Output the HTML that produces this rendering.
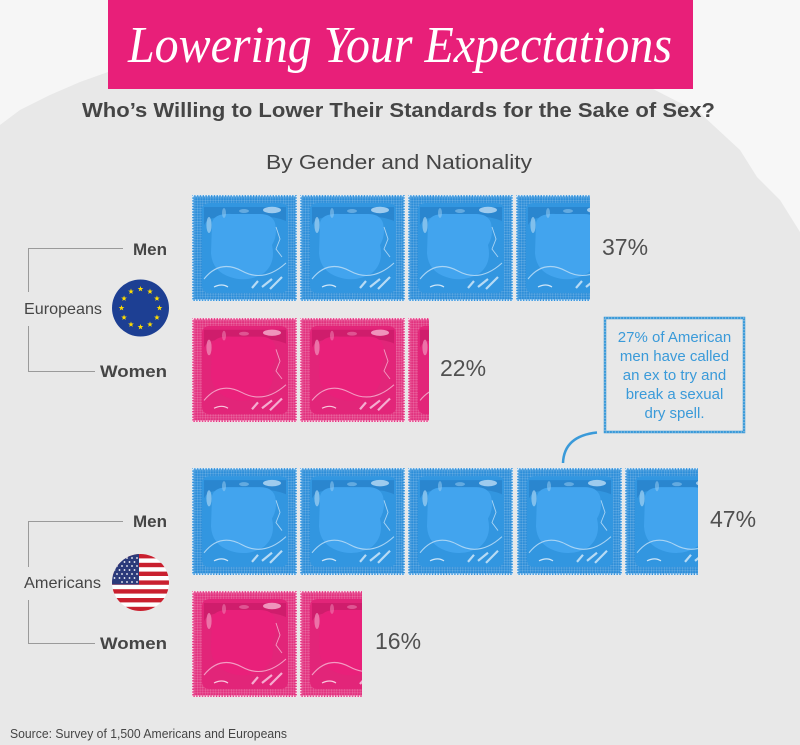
<!DOCTYPE html>
<html><head><meta charset="utf-8"><style>
html,body{margin:0;padding:0;background:#e8e8e8;}
svg{display:block;}
</style></head><body>
<svg width="800" height="745" viewBox="0 0 800 745" xmlns="http://www.w3.org/2000/svg" xmlns:xlink="http://www.w3.org/1999/xlink">
<defs>
  <pattern id="grid" width="2.6" height="2.6" patternUnits="userSpaceOnUse">
    <rect width="2.6" height="2.6" fill="none"/>
    <rect x="0" y="0" width="2.6" height="0.6" fill="#ffffff" opacity="0.22"/>
    <rect x="0" y="0" width="0.6" height="2.6" fill="#ffffff" opacity="0.22"/>
  </pattern>
  <symbol id="tb" viewBox="0 0 105 106" preserveAspectRatio="none">
    <rect width="105" height="106" fill="#2d8ed9"/>
    <rect width="105" height="106" fill="url(#grid)"/>
    <rect x="0.75" y="0.75" width="103.5" height="104.5" fill="none" stroke="#dcecf9" stroke-width="1.5" stroke-dasharray="1.4 1.4"/>
    <path d="M10 16 Q10 8 18 8 L88 8 Q96 8 96 16 L96 90 Q96 98 88 98 L18 98 Q10 98 10 90Z" fill="#3296e0"/>
    <path d="M12 12 L94 12 L94 26 Q80 20 60 22 L30 22 Q16 22 12 30Z" fill="#2a86cf"/>
    <path d="M20 28 Q22 18 40 19 L68 19 Q80 19 83 28 Q86 40 80 50 Q84 68 72 78 Q56 88 38 82 Q20 76 19 58Z" fill="#42a4ee"/>
    <ellipse cx="17" cy="30" rx="2.6" ry="8" fill="#9ccdf1" opacity="0.75"/>
    <ellipse cx="32" cy="18" rx="2" ry="5" fill="#9ccdf1" opacity="0.5"/>
    <ellipse cx="80" cy="15" rx="9" ry="3.2" fill="#bcdcf5" opacity="0.8"/>
    <ellipse cx="52" cy="16" rx="5" ry="2" fill="#9ccdf1" opacity="0.5"/>
    <path d="M12 84 Q28 64 50 76 Q72 88 94 68" fill="none" stroke="#a9d4f4" stroke-width="1.1"/>
    <path d="M84 32 L88 44 L84 54 L90 62" fill="none" stroke="#a9d4f4" stroke-width="0.9"/>
    <path d="M70 92 L80 84 M78 94 L90 82 M60 93 L66 86" stroke="#b7dbf5" stroke-width="2.2"/>
    <path d="M22 92 Q30 88 36 92" fill="none" stroke="#cfe6f8" stroke-width="1.2"/>
  </symbol>
  <symbol id="tp" viewBox="0 0 105 106" preserveAspectRatio="none">
    <rect width="105" height="106" fill="#e2327f"/>
    <rect width="105" height="106" fill="url(#grid)"/>
    <rect x="0.75" y="0.75" width="103.5" height="104.5" fill="none" stroke="#fbe0ec" stroke-width="1.5" stroke-dasharray="1.4 1.4"/>
    <path d="M10 16 Q10 8 18 8 L88 8 Q96 8 96 16 L96 90 Q96 98 88 98 L18 98 Q10 98 10 90Z" fill="#e22579"/>
    <path d="M12 12 L94 12 L94 26 Q80 20 60 22 L30 22 Q16 22 12 30Z" fill="#cf1d6c"/>
    <path d="M20 28 Q22 18 40 19 L68 19 Q80 19 83 28 Q86 40 80 50 Q84 68 72 78 Q56 88 38 82 Q20 76 19 58Z" fill="#e9207a"/>
    <ellipse cx="17" cy="30" rx="2.6" ry="8" fill="#f08cb8" opacity="0.75"/>
    <ellipse cx="32" cy="18" rx="2" ry="5" fill="#f08cb8" opacity="0.5"/>
    <ellipse cx="80" cy="15" rx="9" ry="3.2" fill="#f6b3d1" opacity="0.8"/>
    <ellipse cx="52" cy="16" rx="5" ry="2" fill="#f08cb8" opacity="0.5"/>
    <path d="M12 84 Q28 64 50 76 Q72 88 94 68" fill="none" stroke="#f39cc3" stroke-width="1.1"/>
    <path d="M84 32 L88 44 L84 54 L90 62" fill="none" stroke="#f39cc3" stroke-width="0.9"/>
    <path d="M70 92 L80 84 M78 94 L90 82 M60 93 L66 86" stroke="#f5acd0" stroke-width="2.2"/>
    <path d="M22 92 Q30 88 36 92" fill="none" stroke="#f8c9de" stroke-width="1.2"/>
  </symbol>
  <path id="star" d="M0,-3 L0.705,-0.971 L2.853,-0.927 L1.141,0.371 L1.763,2.427 L0,1.2 L-1.763,2.427 L-1.141,0.371 L-2.853,-0.927 L-0.705,-0.971 Z" fill="#ffdd00"/>
  <clipPath id="c1"><rect x="0" y="0" width="590" height="745"/></clipPath>
  <clipPath id="c2"><rect x="0" y="0" width="429" height="745"/></clipPath>
  <clipPath id="c3"><rect x="0" y="0" width="698" height="745"/></clipPath>
  <clipPath id="c4"><rect x="0" y="0" width="362" height="745"/></clipPath>
  <clipPath id="us"><circle cx="140.5" cy="582.5" r="28.5"/></clipPath>
</defs>

<!-- background -->
<rect width="800" height="745" fill="#e8e8e8"/>
<polygon points="0,0 108,0 108,72 80,82 50,95 20,110 0,125" fill="#f6f6f6"/>
<polygon points="693,0 800,0 800,232 780,200 757,177 740,150 700,113 653,89 693,89" fill="#f7f7f7"/>

<!-- title -->
<rect x="108" y="0" width="585" height="89" fill="#e81f79"/>
<text x="128" y="62" font-family="Liberation Serif, serif" font-style="italic" font-size="52" fill="#ffffff" textLength="544" lengthAdjust="spacingAndGlyphs">Lowering Your Expectations</text>

<text x="82" y="117" font-family="Liberation Sans, sans-serif" font-weight="bold" font-size="20" fill="#454545" textLength="633" lengthAdjust="spacingAndGlyphs">Who’s Willing to Lower Their Standards for the Sake of Sex?</text>
<text x="266" y="169" font-family="Liberation Sans, sans-serif" font-size="20" fill="#454545" textLength="266" lengthAdjust="spacingAndGlyphs">By Gender and Nationality</text>

<!-- brackets -->
<g stroke="#9a9a9a" stroke-width="1" fill="none">
  <path d="M123 248.5 H28.5 V292"/>
  <path d="M28.5 326 V371.5 H95"/>
  <path d="M123 521.5 H28.5 V567"/>
  <path d="M28.5 600 V643.5 H95"/>
</g>

<g font-family="Liberation Sans, sans-serif" fill="#454545">
  <text x="167" y="255" text-anchor="end" font-weight="bold" font-size="17">Men</text>
  <text x="100" y="377" font-weight="bold" font-size="17" textLength="67" lengthAdjust="spacingAndGlyphs">Women</text>
  <text x="24" y="314" font-size="16" textLength="78" lengthAdjust="spacingAndGlyphs">Europeans</text>
  <text x="167" y="527" text-anchor="end" font-weight="bold" font-size="17">Men</text>
  <text x="100" y="649" font-weight="bold" font-size="17" textLength="67" lengthAdjust="spacingAndGlyphs">Women</text>
  <text x="24" y="588" font-size="16" textLength="77" lengthAdjust="spacingAndGlyphs">Americans</text>
</g>

<!-- EU flag -->
<circle cx="140.5" cy="308" r="28.5" fill="#1d3f93"/>
<g transform="translate(140.5,308)">
  <use xlink:href="#star" x="0" y="-19"/>
  <use xlink:href="#star" x="9.5" y="-16.45"/>
  <use xlink:href="#star" x="16.45" y="-9.5"/>
  <use xlink:href="#star" x="19" y="0"/>
  <use xlink:href="#star" x="16.45" y="9.5"/>
  <use xlink:href="#star" x="9.5" y="16.45"/>
  <use xlink:href="#star" x="0" y="19"/>
  <use xlink:href="#star" x="-9.5" y="16.45"/>
  <use xlink:href="#star" x="-16.45" y="9.5"/>
  <use xlink:href="#star" x="-19" y="0"/>
  <use xlink:href="#star" x="-16.45" y="-9.5"/>
  <use xlink:href="#star" x="-9.5" y="-16.45"/>
</g>

<!-- US flag -->
<g clip-path="url(#us)">
  <rect x="110" y="553" width="62" height="60" fill="#ffffff"/>
  <g fill="#c9202f">
    <rect x="110" y="554" width="62" height="4.4"/>
    <rect x="110" y="562.8" width="62" height="4.4"/>
    <rect x="110" y="571.6" width="62" height="4.4"/>
    <rect x="110" y="580.4" width="62" height="4.4"/>
    <rect x="110" y="589.2" width="62" height="4.4"/>
    <rect x="110" y="598" width="62" height="4.4"/>
    <rect x="110" y="606.8" width="62" height="4.4"/>
  </g>
  <rect x="110" y="553" width="29" height="31.5" fill="#2b3a7a"/>
  <g fill="#ffffff">
    <circle cx="117" cy="558" r="0.9"/><circle cx="122" cy="558" r="0.9"/><circle cx="127" cy="558" r="0.9"/><circle cx="132" cy="558" r="0.9"/><circle cx="137" cy="558" r="0.9"/>
    <circle cx="119.5" cy="562" r="0.9"/><circle cx="124.5" cy="562" r="0.9"/><circle cx="129.5" cy="562" r="0.9"/><circle cx="134.5" cy="562" r="0.9"/>
    <circle cx="117" cy="566" r="0.9"/><circle cx="122" cy="566" r="0.9"/><circle cx="127" cy="566" r="0.9"/><circle cx="132" cy="566" r="0.9"/><circle cx="137" cy="566" r="0.9"/>
    <circle cx="114.5" cy="570" r="0.9"/><circle cx="119.5" cy="570" r="0.9"/><circle cx="124.5" cy="570" r="0.9"/><circle cx="129.5" cy="570" r="0.9"/><circle cx="134.5" cy="570" r="0.9"/>
    <circle cx="117" cy="574" r="0.9"/><circle cx="122" cy="574" r="0.9"/><circle cx="127" cy="574" r="0.9"/><circle cx="132" cy="574" r="0.9"/><circle cx="137" cy="574" r="0.9"/>
    <circle cx="114.5" cy="578" r="0.9"/><circle cx="119.5" cy="578" r="0.9"/><circle cx="124.5" cy="578" r="0.9"/><circle cx="129.5" cy="578" r="0.9"/><circle cx="134.5" cy="578" r="0.9"/>
    <circle cx="122" cy="582" r="0.9"/><circle cx="127" cy="582" r="0.9"/><circle cx="132" cy="582" r="0.9"/><circle cx="137" cy="582" r="0.9"/>
  </g>
</g>

<!-- EU men -->
<g clip-path="url(#c1)">
  <use xlink:href="#tb" x="192" y="195" width="105" height="106"/>
  <use xlink:href="#tb" x="300" y="195" width="105" height="106"/>
  <use xlink:href="#tb" x="408" y="195" width="105" height="106"/>
  <use xlink:href="#tb" x="516" y="195" width="105" height="106"/>
</g>
<!-- EU women -->
<g clip-path="url(#c2)">
  <use xlink:href="#tp" x="192" y="318" width="105" height="104"/>
  <use xlink:href="#tp" x="300" y="318" width="105" height="104"/>
  <use xlink:href="#tp" x="408" y="318" width="105" height="104"/>
</g>
<!-- US men -->
<g clip-path="url(#c3)">
  <use xlink:href="#tb" x="192" y="468" width="105" height="107"/>
  <use xlink:href="#tb" x="300" y="468" width="105" height="107"/>
  <use xlink:href="#tb" x="408" y="468" width="105" height="107"/>
  <use xlink:href="#tb" x="517" y="468" width="105" height="107"/>
  <use xlink:href="#tb" x="625" y="468" width="105" height="107"/>
</g>
<!-- US women -->
<g clip-path="url(#c4)">
  <use xlink:href="#tp" x="192" y="591" width="105" height="106"/>
  <use xlink:href="#tp" x="300" y="591" width="105" height="106"/>
</g>

<!-- percentages -->
<g font-family="Liberation Sans, sans-serif" font-size="23" fill="#505050">
  <text x="602" y="255">37%</text>
  <text x="440" y="376">22%</text>
  <text x="710" y="527">47%</text>
  <text x="375" y="649">16%</text>
</g>

<!-- callout -->
<rect x="605" y="318" width="139" height="114" fill="none" stroke="#3a9ad9" stroke-width="2.5"/>
<rect x="605" y="318" width="139" height="114" fill="none" stroke="#e8e8e8" stroke-width="0.8" stroke-dasharray="1.2 1.8" opacity="0.8"/>
<path d="M597 432.5 Q564 436 563 463" fill="none" stroke="#3a9ad9" stroke-width="2.5"/>
<g font-family="Liberation Sans, sans-serif" font-size="15" fill="#3a9ad9" text-anchor="middle">
  <text x="674.5" y="342">27% of American</text>
  <text x="674.5" y="361">men have called</text>
  <text x="674.5" y="380">an ex to try and</text>
  <text x="674.5" y="399">break a sexual</text>
  <text x="674.5" y="418">dry spell.</text>
</g>

<text x="10" y="738" font-family="Liberation Sans, sans-serif" font-size="13" fill="#454545" textLength="277" lengthAdjust="spacingAndGlyphs">Source: Survey of 1,500 Americans and Europeans</text>
</svg>
</body></html>
